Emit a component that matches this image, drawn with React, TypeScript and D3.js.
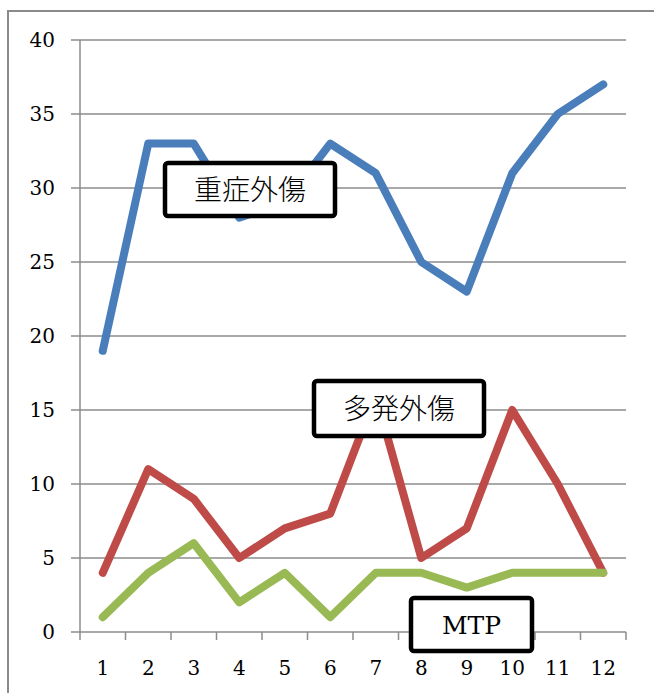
import React from "react";
import * as d3 from "d3";

const categories = ["1", "2", "3", "4", "5", "6", "7", "8", "9", "10", "11", "12"];
const severe = [19, 33, 33, 28, 29, 33, 31, 25, 23, 31, 35, 37];
const multiple = [4, 11, 9, 5, 7, 8, 16, 5, 7, 15, 10, 4];
const mtp = [1, 4, 6, 2, 4, 1, 4, 4, 3, 4, 4, 4];
const yTicks = [0, 5, 10, 15, 20, 25, 30, 35, 40];

const seriesList = [
  { name: "重症外傷", values: severe, color: "#4A7EBB" },
  { name: "多発外傷", values: multiple, color: "#BE4B48" },
  { name: "MTP", values: mtp, color: "#98B954" },
];

const labelBoxes = [
  { text: "重症外傷", x: 165, y: 163, w: 170, h: 53, cjk: true },
  { text: "多発外傷", x: 314, y: 381, w: 170, h: 55, cjk: true },
  { text: "MTP", x: 411, y: 598, w: 121, h: 53, cjk: false },
];

export default function App() {
  const left = 80, right = 626, top = 40, bottom = 632;
  const x = d3.scaleBand<string>().domain(categories).range([left, right]).padding(0);
  const y = d3.scaleLinear().domain([0, 40]).range([bottom, top]);
  const cx = (c: string) => (x(c) as number) + x.bandwidth() / 2;
  const line = d3
    .line<number>()
    .x((_, i) => cx(categories[i]))
    .y((v) => y(v));
  const serif = "'DejaVu Serif', 'Liberation Serif', serif";
  return (
    <svg
      width={654}
      height={693}
      style={{ position: "absolute", left: 0, top: 0, background: "#fff" }}
    >
      <rect x={8} y={11} width={700} height={750} fill="#fff" stroke="#8a8a8a" strokeWidth={2} />
      {yTicks.map((t) => (
        <line key={"g" + t} x1={71} x2={right} y1={y(t)} y2={y(t)} stroke="#8c8c8c" strokeWidth={1.5} />
      ))}
      <line x1={left} x2={left} y1={top} y2={bottom + 8} stroke="#8c8c8c" strokeWidth={1.5} />
      {categories.map((c) => (
        <line
          key={"xt" + c}
          x1={(x(c) as number) + x.bandwidth()}
          x2={(x(c) as number) + x.bandwidth()}
          y1={bottom}
          y2={bottom + 8}
          stroke="#8c8c8c"
          strokeWidth={1.5}
        />
      ))}
      {yTicks.map((t) => (
        <text key={"yl" + t} x={55} y={y(t)} dy="0.36em" textAnchor="end" fontFamily={serif} fontSize={20} fill="#000">
          {t}
        </text>
      ))}
      {categories.map((c) => (
        <text key={"xl" + c} x={cx(c)} y={668} dy="0.36em" textAnchor="middle" fontFamily={serif} fontSize={20} fill="#000">
          {c}
        </text>
      ))}
      {seriesList.map((s) => (
        <path
          key={s.name}
          d={line(s.values) as string}
          fill="none"
          stroke={s.color}
          strokeWidth={8}
          strokeLinejoin="round"
          strokeLinecap="round"
        />
      ))}
      {labelBoxes.map((b) => (
        <g key={b.text}>
          <rect x={b.x} y={b.y} width={b.w} height={b.h} rx={3} fill="#fff" stroke="#000" strokeWidth={4.5} />
          <text
            x={b.x + b.w / 2}
            y={b.y + b.h / 2}
            dy="0.36em"
            textAnchor="middle"
            fontFamily={b.cjk ? "'Noto Sans CJK JP', sans-serif" : serif}
            fontSize={b.cjk ? 28 : 25}
            fontWeight={b.cjk ? 300 : 400}
            fill="#000"
          >
            {b.text}
          </text>
        </g>
      ))}
    </svg>
  );
}
